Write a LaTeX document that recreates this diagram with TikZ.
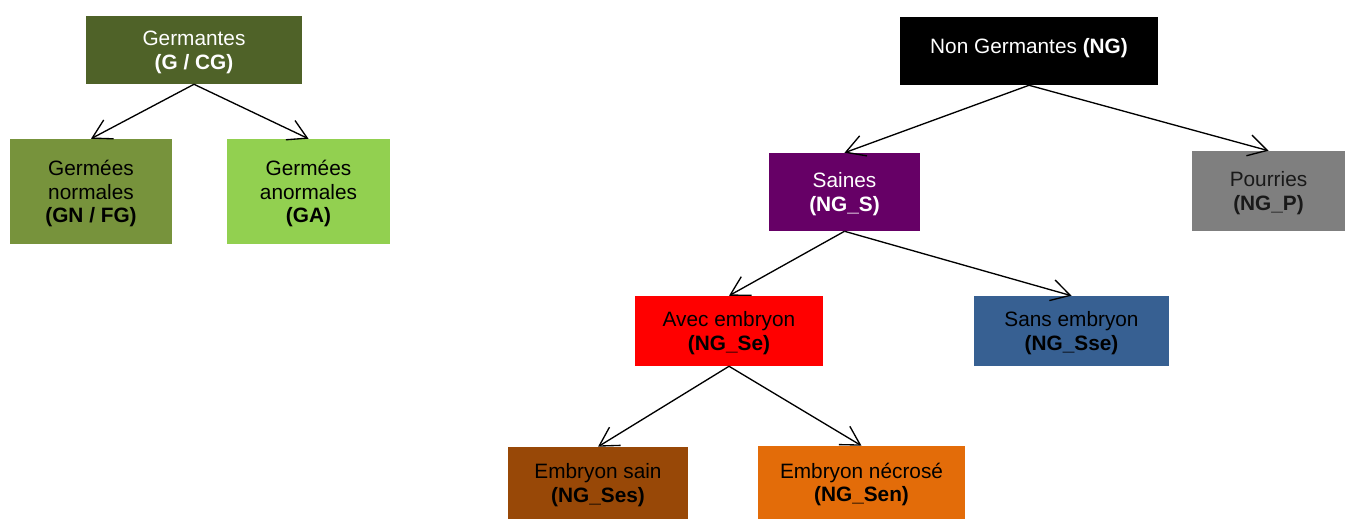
\documentclass[tikz,border=0pt]{standalone}
\usepackage{fontspec}
\setmainfont{Liberation Sans}
\usetikzlibrary{arrows.meta}

\definecolor{germdark}{HTML}{4F6228}
\definecolor{germnorm}{HTML}{77933C}
\definecolor{germanorm}{HTML}{92D050}
\definecolor{sainepurple}{HTML}{660066}
\definecolor{pourgray}{HTML}{7F7F7F}
\definecolor{sansblue}{HTML}{376092}
\definecolor{sainbrown}{HTML}{984807}
\definecolor{necrorange}{HTML}{E36C09}

\begin{document}
\begin{tikzpicture}[
    x = 0.75pt, y = -0.75pt,
    every node/.style = {font = \fontsize{15.6}{17.6}\selectfont, align = center, inner sep = 0pt, text depth = 0pt},
    box/.style args = {#1x#2}{rectangle, minimum width = #1*0.75pt, minimum height = #2*0.75pt},
    link/.style = {-{Straight Barb[length = 14pt, width = 16pt]}, line width = 1pt},
  ]
  \useasboundingbox (0,0) rectangle (1345,519);

  % germantes
  \node [box = 216x68, fill = germdark, text = white] (g) at (194,50)
        {Germantes\\\textbf{(G / CG)}};
  \node [box = 162x105, fill = germnorm] (gn) at (91,191.5)
        {Germées\\normales\\\textbf{(GN / FG)}};
  \node [box = 163x105, fill = germanorm] (ga) at (308.5,191.5)
        {Germées\\anormales\\\textbf{(GA)}};

  % non germantes
  \node [box = 258x68, fill = black, text = white, text depth = 8pt] (ng) at (1029,51)
        {Non Germantes \textbf{(NG)}};
  \node [box = 151x78, fill = sainepurple, text = white] (ngs) at (844.5,192)
        {Saines\\\textbf{(NG\_S)}};
  \node [box = 153x80, fill = pourgray, text = black!90] (ngp) at (1268.5,191)
        {Pourries\\\textbf{(NG\_P)}};
  \node [box = 188x70, fill = red] (ngse) at (729,331)
        {Avec embryon\\\textbf{(NG\_Se)}};
  \node [box = 195x70, fill = sansblue] (ngsse) at (1071.5,331)
        {Sans embryon\\\textbf{(NG\_Sse)}};
  \node [box = 180x72, fill = sainbrown] (ngses) at (598,483)
        {Embryon sain\\\textbf{(NG\_Ses)}};
  \node [box = 207x73, fill = necrorange] (ngsen) at (861.5,482.5)
        {Embryon nécrosé\\\textbf{(NG\_Sen)}};

  \draw [link] (g.south) -- (gn.north);
  \draw [link] (g.south) -- (ga.north);
  \draw [link] (ng.south) -- (ngs.north);
  \draw [link] (ng.south) -- (ngp.north);
  \draw [link] (ngs.south) -- (ngse.north);
  \draw [link] (ngs.south) -- (ngsse.north);
  \draw [link] (ngse.south) -- (ngses.north);
  \draw [link] (ngse.south) -- (ngsen.north);
\end{tikzpicture}
\end{document}
